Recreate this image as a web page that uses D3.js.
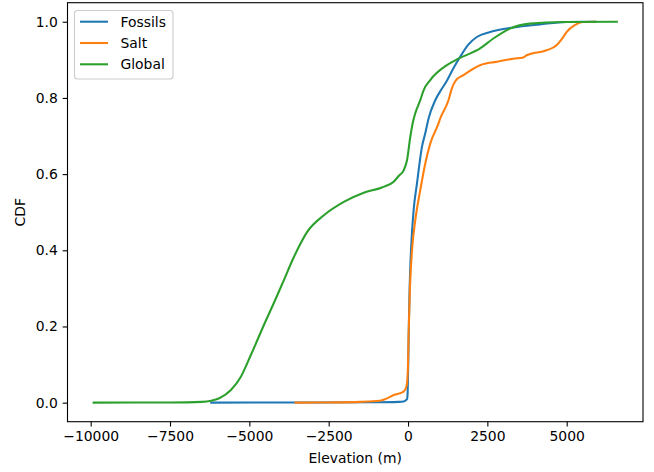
<!DOCTYPE html>
<html><head><meta charset="utf-8">
<script src="https://cdn.jsdelivr.net/npm/d3@7"></script>
<style>body{margin:0;background:#fff}svg{display:block}text{font-family:"DejaVu Sans",sans-serif;fill:#000}</style>
</head><body><svg id="c" width="654" height="472"></svg>
<script>
const seriesNames = ["Fossils", "Salt", "Global"];
const colors = ["#1f77b4", "#ff7f0e", "#2ca02c"];
const fossilsX = [-6200,-4500,-3000,-1000,-300,-138,-31,-13,10,30,50,72,120,176,283,440,543,647,857,1050,1225,1400,1643,1900,2167,2585,3317,4155,4994,5900];
const fossilsY = [0,0.0003,0.0005,0.001,0.002,0.003,0.009,0.025,0.12,0.22,0.30,0.357,0.44,0.505,0.576,0.672,0.707,0.746,0.794,0.822,0.845,0.873,0.908,0.94,0.960,0.973,0.985,0.993,0.9995,1];
const saltX = [-3543,-2500,-1500,-889,-700,-452,-138,-53,-31,0,19,60,126,229,386,543,700,961,1014,1275,1382,1500,1747,2271,2795,3317,3631,3738,4365,4680,4850,4994,5254,5515,5900];
const saltY = [0,0.0005,0.002,0.005,0.01,0.020,0.029,0.042,0.051,0.1,0.18,0.3,0.40,0.479,0.558,0.628,0.680,0.733,0.746,0.794,0.825,0.845,0.860,0.886,0.895,0.903,0.906,0.912,0.925,0.938,0.955,0.973,0.991,0.9995,1];
const globalX = [-9906,-7500,-6500,-6200,-5948,-5581,-5267,-4953,-4482,-4221,-3957,-3593,-3172,-2651,-2023,-1394,-820,-452,-295,-138,-31,72,150,229,386,490,700,1225,1589,2271,2689,3213,3841,4887,6580];
const globalY = [0,0.0005,0.002,0.005,0.0115,0.033,0.068,0.125,0.215,0.263,0.313,0.383,0.449,0.492,0.527,0.551,0.565,0.58,0.595,0.610,0.637,0.698,0.735,0.760,0.794,0.820,0.847,0.886,0.903,0.930,0.956,0.982,0.995,0.9995,1];
const xTicks = [-10000,-7500,-5000,-2500,0,2500,5000];
const yTicks = [0,0.2,0.4,0.6,0.8,1.0];
const xLabel = "Elevation (m)", yLabel = "CDF";

const svg = d3.select("#c");
const L = 67.5, R = 643, T = 2.7, B = 421.7;
const allX = fossilsX.concat(saltX, globalX);
const xmin = d3.min(allX), xmax = d3.max(allX), pad = (xmax - xmin) * 0.05;
const x = d3.scaleLinear().domain([xmin - pad, xmax + pad]).range([L, R]);
const y = d3.scaleLinear().domain([-0.05, 1.05]).range([B, T]);

const series = [[fossilsX, fossilsY], [saltX, saltY], [globalX, globalY]];
const line = d3.line().x(d => x(d[0])).y(d => y(d[1])).curve(d3.curveMonotoneX);
series.forEach((s, i) => {
  const pts = s[0].map((v, j) => [v, s[1][j]]);
  svg.append("path").attr("d", line(pts)).attr("fill", "none")
    .attr("stroke", colors[i]).attr("stroke-width", 2.08).attr("stroke-linejoin", "round").attr("stroke-linecap", "square");
});

const fmtX = d3.format("d");
const xa = svg.append("g").attr("transform", `translate(0,${B})`)
  .call(d3.axisBottom(x).tickValues(xTicks).tickFormat(d => fmtX(d)).tickSize(4.86).tickPadding(4.86));
const ya = svg.append("g").attr("transform", `translate(${L},0)`)
  .call(d3.axisLeft(y).tickValues(yTicks).tickFormat(d3.format(".1f")).tickSize(4.86).tickPadding(4.86));
[xa, ya].forEach(a => {
  a.select(".domain").remove();
  a.selectAll(".tick line").attr("stroke", "#000").attr("stroke-width", 1.1);
  a.selectAll(".tick text").attr("font-size", 13.9).attr("font-family", "DejaVu Sans").attr("fill", "#000");
});
svg.append("rect").attr("x", L).attr("y", T).attr("width", R - L).attr("height", B - T)
  .attr("fill", "none").attr("stroke", "#000").attr("stroke-width", 1.1);

svg.append("text").attr("x", (L + R) / 2).attr("y", 463).attr("text-anchor", "middle").attr("font-size", 13.9).text(xLabel);
svg.append("text").attr("transform", `translate(25,${(T + B) / 2}) rotate(-90)`).attr("text-anchor", "middle").attr("font-size", 13.9).text(yLabel);

const lg = svg.append("g");
lg.append("rect").attr("x", 74.5).attr("y", 10.5).attr("width", 98.5).attr("height", 68.5).attr("rx", 3)
  .attr("fill", "#fff").attr("fill-opacity", 0.8).attr("stroke", "#cccccc").attr("stroke-width", 1.1);
seriesNames.forEach((n, i) => {
  const yy = 21.7 + i * 21.3;
  lg.append("line").attr("x1", 80).attr("x2", 108).attr("y1", yy).attr("y2", yy).attr("stroke", colors[i]).attr("stroke-width", 2.08);
  lg.append("text").attr("x", 120.5).attr("y", yy + 5).attr("font-size", 13.9).text(n);
});
</script></body></html>
